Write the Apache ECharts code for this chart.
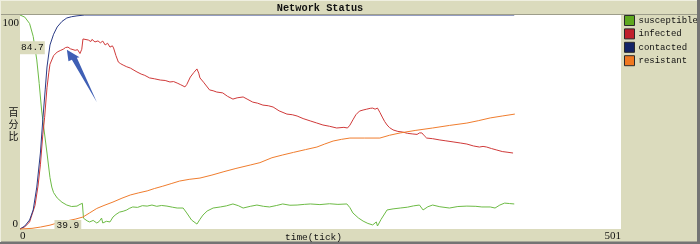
<!DOCTYPE html>
<html>
<head>
<meta charset="utf-8">
<script src="https://cdn.jsdelivr.net/npm/echarts@6/dist/echarts.min.js"></script>
<style>
html,body{margin:0;padding:0;background:#DBDBBD;}
#c{width:700px;height:244px;}
</style>
</head>
<body>
<div id="c"></div>
<script>
// ---- data ----
const chartTitle = 'Network Status';
const xAxisName = 'time(tick)';
const yAxisName = '百分比';
const seriesNames = ['susceptible', 'infected', 'contacted', 'resistant'];
const xRange = [0, 501];
const yRange = [0, 100];
const yTickLabels = ['0', '100'];
const cursorPoint = [39.9, 84.7];

const susceptible = [[0,100],[4,99],[8,96],[11,90],[14,79],[16,68],[18,55.6],[19,51],[22.5,35.5],[25,24],[26.5,19.6],[28,17],[31,14.5],[35,12.5],[39,11.2],[43,10.5],[47.5,10.7],[50,11.5],[52,12],[52.8,6],[53,5],[56,3.8],[58,3.3],[61,4],[64,2.8],[66,3.5],[68,5.1],[69,2.8],[72,3.6],[75,3.3],[77.5,5.6],[80,6.8],[83,7.9],[86,8.3],[89,8.9],[91,9.6],[94,10.3],[98,10.1],[102,10.9],[106,10.7],[110,11.2],[114,10.6],[118,11],[122.5,10.7],[127,10.2],[131,9.8],[136,9.8],[139,7.5],[143,4.2],[147.5,2.3],[150,4.5],[152.5,6.5],[156,8.4],[161,9.8],[167,10.3],[172,10.8],[177.5,11.7],[182,10.9],[186,9.8],[192,10.6],[197.5,11.2],[203,10.6],[208,10.3],[214,11],[219,11.7],[225,11.1],[231,11.2],[237,11.5],[242,11.7],[250,11.4],[258,11.8],[265,11.5],[272.5,11.7],[275,10],[277.5,7.5],[282,5.2],[286,3.7],[290,2.6],[294,1.9],[297,3.3],[298,1.4],[301,4.5],[306,8.9],[311,9.4],[317,9.8],[323,10.2],[328,10.8],[333,11.2],[336,8.9],[340,10.4],[344,11.2],[350,10.4],[358,9.8],[365,10.5],[372.5,10.7],[380,10.6],[385,10.3],[392,10.3],[396,9.8],[400,11.2],[404,12.1],[408,11.9],[412,11.7]];

const infected = [[0,0],[4,1],[8,3.3],[12.5,11],[15,20],[17,30],[19,44],[20.5,52],[22.5,66],[24,73],[25,77],[28,81],[31,82.7],[34,83.5],[36,84],[38,84.8],[40,85],[42,84.2],[43,84],[46,83.5],[48,83.8],[50,82],[51.5,84],[52.5,88.8],[54,89.6],[57,88.3],[59,87.6],[60,88.6],[62.5,87.4],[65,87.9],[67,87],[69,87.8],[71,86],[73,86.8],[75,85],[77,85.6],[78,84.6],[80,81],[82,78],[84,77.2],[86,76.6],[89,75.8],[92,75.2],[95,74.2],[97.5,73.4],[101,72.4],[104,71.8],[108,70.6],[112,70.2],[117,69.6],[121,69.4],[125,68.7],[128,68.9],[131,68.2],[134,67.4],[137.5,66.4],[139,67.5],[142,71],[145,73.2],[147.5,74.8],[149,72.8],[150,70.6],[153,68.6],[158,65],[161,64.6],[164,64],[169,63.6],[173,62],[177.5,60.7],[181,61.3],[186,61.7],[190,60.5],[194,59.3],[198,58.8],[202.5,57.9],[207,57.6],[211,57],[216,55.2],[222.5,53.7],[227,53.4],[231,52.8],[236,51.6],[242,50.5],[247,49.6],[252.5,48.6],[258,48],[264,47.2],[270,47.5],[273,47.2],[275,48.5],[277.5,51],[280,53.4],[283,55.1],[286,55.6],[289,56],[292,56.4],[294,56.5],[296,56],[297.5,55.6],[298,56.5],[300,54.5],[302,52.3],[304,50.2],[306,48.6],[308,47.4],[311,46.3],[315,45.6],[319,45.3],[323,44.7],[327.5,44.4],[331,44.2],[333,44.9],[335,44.9],[337,43.6],[339,42.5],[344,42.2],[350,41.6],[355,41.2],[361,40.7],[367,40.2],[372.5,39.7],[378,38.8],[383,38.3],[386,38.6],[389,38.3],[393,37.6],[397.5,36.9],[402,36.2],[406,35.9],[411,35.5]];

const contacted = [[0,0],[4,1.4],[8,4.2],[11,8.9],[14,19.6],[17,35.5],[19,51],[21,65],[22.5,75.7],[25,86],[28,91],[31,94.4],[35,97],[39,98.6],[43,99.2],[47.5,99.6],[54,100],[412,100]];

const resistant = [[0,0],[10,0.3],[17,0.9],[25,1.8],[31,2.8],[40,3.9],[46,4.6],[52.5,5.6],[58,7.5],[64,9.6],[70,11],[77.5,12.6],[85,14.4],[92,15.9],[99,16.9],[106,17.8],[112,18.9],[119,20],[126,21.2],[133,22.4],[141,23.2],[150,23.8],[160,25.2],[170,26.8],[180,28.3],[192,29.9],[200,31],[210,33.3],[219,34.6],[228,35.8],[238,37.1],[247.5,38.3],[254,39.7],[261,41.1],[268,41.9],[275,42.5],[287,42.5],[300,42.5],[308,43.8],[317,44.9],[330,46.1],[344,47.2],[358,48.4],[372.5,49.5],[382,50.6],[392,51.9],[402,52.8],[412.5,53.7]];

// ---- styles ----
const lineColors = ['#6DBB45', '#D03A3A', '#2B3C86', '#F07D2E'];
const swatchColors = ['#5FA81E', '#C0202A', '#142466', '#F07820'];
const seriesData = [susceptible, infected, contacted, resistant];
const BEIGE = '#DBDBBD';
const MONO = '"Liberation Mono", "DejaVu Sans Mono", monospace';
const SERIF = '"Liberation Serif", "DejaVu Serif", serif';

const chart = echarts.init(document.getElementById('c'), null, {renderer: 'canvas'});

const option = {
  animation: false,
  backgroundColor: BEIGE,
  grid: {left: 20, top: 15, width: 601, height: 214, show: true, backgroundColor: '#ffffff', borderWidth: 0,
    containLabel: false, outerBoundsMode: 'none'},
  xAxis: {
    type: 'value', min: xRange[0], max: xRange[1], interval: xRange[1] - xRange[0],
    axisLine: {show: false}, axisTick: {show: false}, splitLine: {show: false},
    axisLabel: {show: true, margin: 2, color: '#111', fontFamily: SERIF, fontSize: 11,
      alignMinLabel: 'left', alignMaxLabel: 'right'}
  },
  yAxis: {
    type: 'value', min: yRange[0], max: yRange[1], interval: yRange[1] - yRange[0],
    axisLine: {show: false}, axisTick: {show: false}, splitLine: {show: false},
    axisLabel: {show: false}
  },
  legend: {
    orient: 'vertical', left: 624, top: 15, padding: 0, itemGap: 2.4,
    itemWidth: 10, itemHeight: 10, icon: 'rect',
    itemStyle: {borderColor: '#2a2a2a', borderWidth: 1},
    textStyle: {fontFamily: MONO, fontSize: 9, color: '#111', padding: [0, 0, 0, -1]},
    data: seriesNames
  },
  series: seriesNames.map((n, i) => ({
    name: n, type: 'line', data: seriesData[i], showSymbol: false, symbol: 'none',
    clip: false, z: 2 + i,
    lineStyle: {width: 1, color: lineColors[i]},
    itemStyle: {color: swatchColors[i]}
  }))
};
chart.setOption(option);

const P = v => chart.convertToPixel({gridIndex: 0}, v);
const tip = P(cursorPoint);
const bl = P([xRange[0], yRange[0]]);
const tr = P([xRange[1], yRange[1]]);
const ax = tip[0] - 1, ay = tip[1] + 2;
const arrowShape = [[0,0],[1.6,11.4],[5,10],[30,52.4],[10,8],[12.6,7.4]];

chart.setOption({
  graphic: [
    {type: 'line', shape: {x1: 0, y1: 14.5, x2: 700, y2: 14.5}, style: {stroke: '#9d9d8a', lineWidth: 1}, z: 10},
    {type: 'rect', shape: {x: 697, y: 0, width: 3, height: 244}, style: {fill: '#747474'}, z: 10},
    {type: 'rect', shape: {x: 0, y: 241.5, width: 700, height: 3}, style: {fill: '#747474'}, z: 10},
    {type: 'line', shape: {x1: 0.5, y1: 0, x2: 0.5, y2: 242}, style: {stroke: '#efefe0', lineWidth: 1}, z: 10},
    {type: 'line', shape: {x1: 0, y1: 0.5, x2: 697, y2: 0.5}, style: {stroke: '#efefe0', lineWidth: 1}, z: 10},
    {type: 'text', x: 320, y: 8, style: {text: chartTitle, fontFamily: MONO, fontWeight: 'bold', fontSize: 10.3,
      fill: '#111', align: 'center', verticalAlign: 'middle'}, z: 10},
    {type: 'text', x: 313.5, y: bl[1] + 8, style: {text: xAxisName, fontFamily: MONO, fontSize: 9.5,
      fill: '#111', align: 'center', verticalAlign: 'middle'}, z: 10},
    {type: 'text', x: bl[0] - 1, y: tr[1] + 8.5, style: {text: yTickLabels[1], fontFamily: SERIF, fontSize: 11,
      fill: '#111', align: 'right', verticalAlign: 'middle'}, z: 10},
    {type: 'text', x: bl[0] - 2, y: bl[1] - 5, style: {text: yTickLabels[0], fontFamily: SERIF, fontSize: 11,
      fill: '#111', align: 'right', verticalAlign: 'middle'}, z: 10},
    {type: 'text', x: 13.5, y: 124.5, style: {text: yAxisName.split('').join('\n'), fontFamily: '"Noto Sans CJK SC"',
      fontSize: 10, lineHeight: 12, fill: '#111', align: 'center', verticalAlign: 'middle'}, z: 10},
    {type: 'text', x: bl[0] - 1, y: tip[1], style: {text: String(cursorPoint[1]), fontFamily: MONO, fontSize: 9.5,
      fill: '#111', align: 'left', verticalAlign: 'middle', backgroundColor: BEIGE, padding: [2, 1, 1, 2]}, z: 12},
    {type: 'text', x: tip[0], y: bl[1] - 3.5, style: {text: String(cursorPoint[0]), fontFamily: MONO, fontSize: 9.5,
      fill: '#111', align: 'center', verticalAlign: 'middle', backgroundColor: BEIGE, padding: [1, 2, 0, 2]}, z: 12},
    {type: 'polygon', shape: {points: arrowShape.map(p => [ax + p[0], ay + p[1]])},
      style: {fill: '#3F5FB5'}, z: 12}
  ]
});
</script>
</body>
</html>
